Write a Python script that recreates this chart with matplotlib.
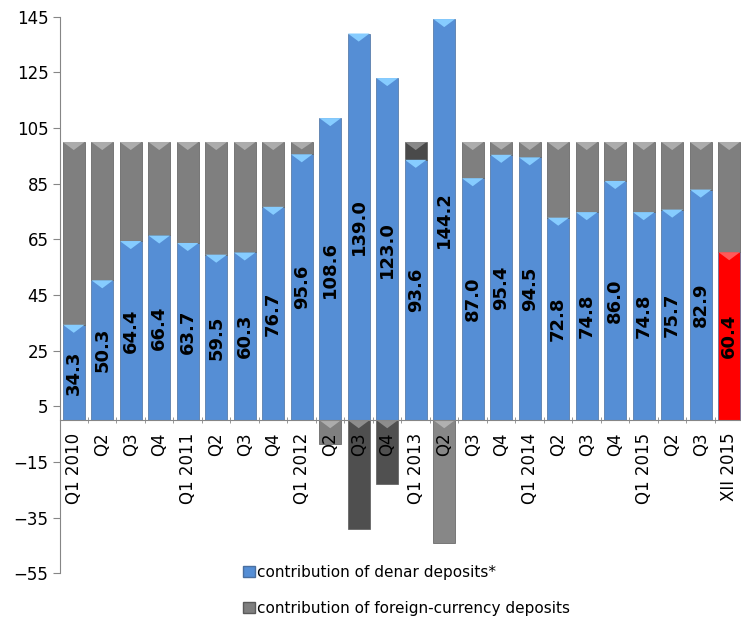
import matplotlib
matplotlib.use('Agg')
import matplotlib.pyplot as plt
from matplotlib.patches import Polygon, Patch
from matplotlib.ticker import FixedLocator

periods = ['Q1 2010', 'Q2', 'Q3', 'Q4',
           'Q1 2011', 'Q2', 'Q3', 'Q4',
           'Q1 2012', 'Q2', 'Q3', 'Q4',
           'Q1 2013', 'Q2', 'Q3', 'Q4',
           'Q1 2014', 'Q2', 'Q3', 'Q4',
           'Q1 2015', 'Q2', 'Q3', 'XII 2015']
denar = [34.3, 50.3, 64.4, 66.4, 63.7, 59.5, 60.3, 76.7, 95.6, 108.6, 139.0, 123.0,
         93.6, 144.2, 87.0, 95.4, 94.5, 72.8, 74.8, 86.0, 74.8, 75.7, 82.9, 60.4]
# foreign-currency contribution makes up the rest to 100
foreign = [round(100 - d, 1) for d in denar]

BLUE = '#558ed5'
GRAY = '#7f7f7f'
RED = '#ff0000'
# a few quarters are drawn in other shades of gray
foreign_colors = [GRAY] * len(periods)
foreign_colors[10] = '#4f4f4f'
foreign_colors[11] = '#505050'
foreign_colors[12] = '#4a4a4a'
foreign_colors[13] = '#878787'
denar_colors = [BLUE] * (len(periods) - 1) + [RED]

plt.rcParams['font.family'] = ['DejaVu Sans']

fig = plt.figure(figsize=(7.41, 6.23), dpi=100)
ax = fig.add_axes([0.0803, 0.080, 0.9230, 0.893])

# spine at zero first: moving it later resets the tick labels
for s in ('top', 'right'):
    ax.spines[s].set_visible(False)
ax.spines['bottom'].set_position(('data', 0))
ax.spines['bottom'].set_color('#868686')
ax.spines['left'].set_color('#868686')

x = list(range(len(periods)))
w = 0.76
b_den = ax.bar(x, denar, w, color=denar_colors, edgecolor='#4a6f9f', linewidth=0.5, zorder=1)
base = [d if f >= 0 else 0 for d, f in zip(denar, foreign)]
b_for = ax.bar(x, foreign, w, bottom=base, color=foreign_colors,
               edgecolor='#5a5a5a', linewidth=0.5, zorder=1)


def lighten(c, k):
    r, g, b = matplotlib.colors.to_rgb(c)
    return (r + (1 - r) * k, g + (1 - g) * k, b + (1 - b) * k)


# bevel triangle at the top of each segment
tri_h = 2.9
for bars in (b_den, b_for):
    for p in bars.patches:
        x0, w0 = p.get_x(), p.get_width()
        y0, h0 = p.get_y(), p.get_height()
        top = max(y0, y0 + h0)
        fc = p.get_facecolor()
        col = '#86ccff' if matplotlib.colors.to_hex(fc) == BLUE else lighten(fc, 0.35)
        th = min(tri_h, abs(h0) * 0.6)
        ax.add_patch(Polygon([(x0, top), (x0 + w0, top), (x0 + w0 / 2, top - th)],
                             closed=True, facecolor=col, edgecolor='none', zorder=1.2))

for i, d in enumerate(denar):
    ax.text(i, d / 2, f'{d:.1f}', rotation=90, ha='center', va='center',
            fontsize=13, fontweight='bold', color='black', zorder=4)

ax.set_ylim(-55, 145)
ax.set_xlim(-0.5, len(periods) - 0.5)
ax.set_yticks(range(-55, 146, 20))
ax.tick_params(axis='y', labelsize=12, length=5, color='#868686', pad=3)

ax.set_xticks(x)
ax.set_xticklabels(periods, rotation=90, fontsize=12, va='top', ha='center')
ax.tick_params(axis='x', which='major', length=0, pad=9)
ax.xaxis.set_minor_locator(FixedLocator([i - 0.5 for i in range(len(periods) + 1)]))
ax.tick_params(axis='x', which='minor', length=4, color='#868686', direction='inout')
# category labels sit on top of the negative bars
ax.xaxis.set_zorder(5)
ax.spines['bottom'].set_zorder(5)

handles = [Patch(facecolor=BLUE, edgecolor='#4a6f9f'), Patch(facecolor=GRAY, edgecolor='#5a5a5a')]
fig.legend(handles, ['contribution of denar deposits*', 'contribution of foreign-currency deposits'],
           loc='upper left', bbox_to_anchor=(0.318, 0.105), frameon=False, fontsize=11,
           handlelength=0.75, handleheight=0.75, handletextpad=0.15, labelspacing=1.35,
           borderpad=0)

fig.savefig('out.png', dpi=100)
